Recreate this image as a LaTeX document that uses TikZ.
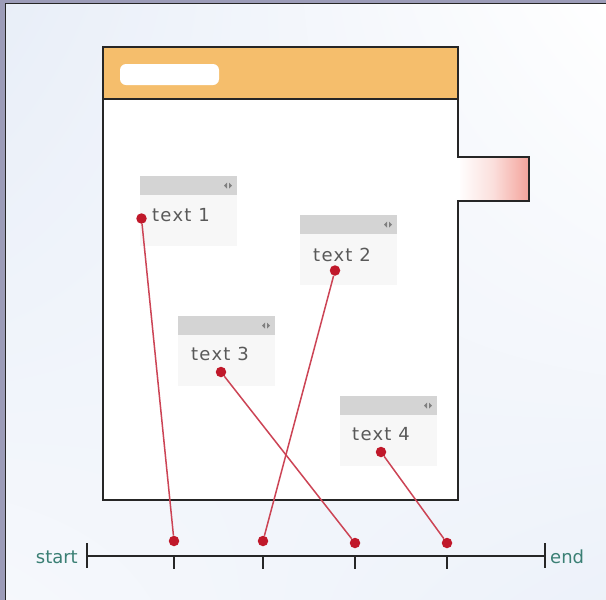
\documentclass[tikz,border=0pt]{standalone}
\usepackage{fontspec}
\usetikzlibrary{shadings}
\setmainfont{DejaVu Sans}
\definecolor{hdr}{HTML}{F5BE6C}
\definecolor{bgb}{HTML}{E8EEF8}
\definecolor{frm}{HTML}{9C9CB8}
\definecolor{lnk}{HTML}{CC4455}
\definecolor{dotc}{HTML}{C0182A}
\definecolor{lbl}{HTML}{3A7F74}
\definecolor{tabr}{HTML}{F4A49C}
\begin{document}
\begin{tikzpicture}[x=1pt,y=-1pt,
  boxline/.style={draw=black!85,line width=2pt},
  barfill/.style={fill=black!17},
  bodyfill/.style={fill=black!3},
  txt/.style={font=\fontsize{18}{20}\selectfont\addfontfeatures{LetterSpace=7},text=black!65,anchor=base west,inner sep=0pt},
  axlbl/.style={font=\fontsize{18}{20}\selectfont,text=lbl,inner sep=0pt},
  dot/.style={circle,fill=dotc,inner sep=0pt,minimum size=10.5pt},
  link/.style={draw=lnk,line width=1.5pt},
  tick/.style={draw=black!85,line width=1.7pt}]
\useasboundingbox (0,0) rectangle (606,600);
% background
\shade[upper left=bgb,upper right=white,lower left=bgb!40!white,lower right=bgb!80!white] (0,0) rectangle (606,600);
% frame (top and left)
\fill[frm] (0,0) rectangle (606,3);
\fill[frm] (0,0) rectangle (5,600);
\draw[black!85,line width=1.2pt] (606,3.6) -- (5.6,3.6) -- (5.6,600);
% main box
\fill[white] (103,47) rectangle (458,500);
\fill[hdr] (103,47) rectangle (458,99);
\fill[white,rounded corners=6pt] (120,64) rectangle (219,85);
\shade[left color=white,right color=tabr,middle color=tabr!35!white] (458,158) rectangle (528,200);
\draw[boxline] (458,157) -- (458,47) -- (103,47) -- (103,500) -- (458,500) -- (458,201) -- (529,201) -- (529,157) -- cycle;
\draw[boxline] (103,99) -- (458,99);
\fill[white] (457,158) rectangle (459.5,200);
% text boxes
\foreach \bx/\by in {140/176,300/215,178/316,340/396}{
  \fill[bodyfill] (\bx,\by+19) rectangle (\bx+97,\by+70);
  \fill[barfill] (\bx,\by) rectangle (\bx+97,\by+19);
  \fill[black!50] (\bx+89,\by+6.5) -- (\bx+92,\by+9.5) -- (\bx+89,\by+12.5) -- cycle;
  \fill[black!50] (\bx+87,\by+6.5) -- (\bx+84,\by+9.5) -- (\bx+87,\by+12.5) -- cycle;
}
\node[txt] (t1) at (152,221) {text 1};
\node[txt] (t2) at (313,261) {text 2};
\node[txt] (t3) at (191,360) {text 3};
\node[txt] (t4) at (352,440) {text 4};
% timeline
\coordinate (s) at (87,556);
\coordinate (e) at (545,556);
\draw[tick] (s) -- (e);
\draw[tick] (87,543) -- (87,568);
\draw[tick] (545,543) -- (545,568);
\foreach \x in {174,263,355,447}{\draw[tick] (\x,556) -- (\x,569);}
\node[axlbl,anchor=base east] (start) at (78,563) {start};
\node[axlbl,anchor=base west] (end) at (550,563) {end};
% dots and links
\node[dot] (d1) at (141.5,218.5) {};
\node[dot] (d2) at (335,270.5) {};
\node[dot] (d3) at (221,372) {};
\node[dot] (d4) at (381,452) {};
\node[dot] (p1) at (174,541) {};
\node[dot] (p2) at (263,541) {};
\node[dot] (p3) at (355,543) {};
\node[dot] (p4) at (447,543) {};
\draw[link] (d1) -- (p1);
\draw[link] (d2) -- (p2);
\draw[link] (d3) -- (p3);
\draw[link] (d4) -- (p4);
\end{tikzpicture}
\end{document}
